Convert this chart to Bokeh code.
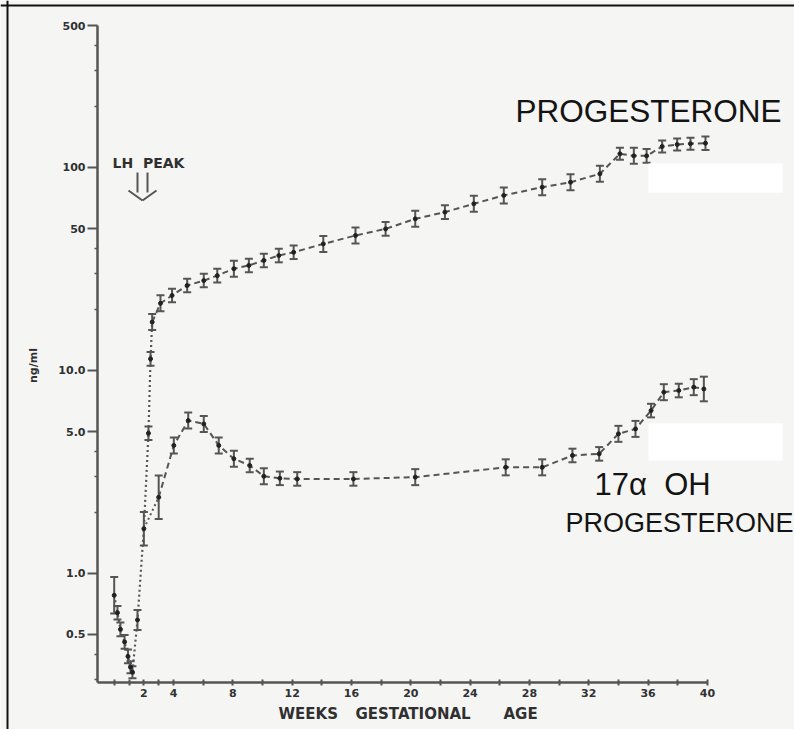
from bokeh.plotting import figure
from bokeh.models import (ColumnDataSource, Whisker, TeeHead, FixedTicker, Label,
                          Span, BoxAnnotation, Arrow, Range1d)
from bokeh.embed import file_html
from bokeh.resources import INLINE

# ---------------- data ----------------
# shared early luteal / conception points (ng/ml)
early_weeks = [0.0, 0.22, 0.42, 0.70, 0.93, 1.10, 1.23, 1.57, 2.0]
early_vals = [0.78, 0.64, 0.53, 0.46, 0.39, 0.345, 0.326, 0.59, 1.66]
early_err_pct = [23, 8, 8, 8, 8, 7, 7, 12, 21]

prog_weeks = [2.31, 2.45, 2.56, 3.12, 3.90, 4.92, 6.04, 6.95, 8.07, 9.08, 10.09,
              11.10, 12.10, 14.10, 16.27, 18.30, 20.30, 22.30, 24.25, 26.27, 28.86,
              30.77, 32.75, 34.10, 35.04, 35.90, 36.95, 37.96, 38.86, 39.87]
prog_vals = [4.9, 11.4, 17.3, 21.4, 23.4, 26.2, 27.7, 29.3, 31.7, 32.9, 34.8,
             36.8, 38.2, 42.0, 46.2, 49.8, 55.8, 60.2, 66.2, 72.8, 79.9,
             84.5, 93.0, 116.7, 114.0, 114.0, 126.8, 129.7, 130.9, 131.6]
prog_err_pct = [8, 8, 9.5, 9.5, 8, 8, 8, 8, 9.5, 8, 8,
                8, 8, 9.5, 9.5, 8, 9.5, 8, 9.5, 9.5, 9.5,
                9.5, 9.5, 7, 9.5, 8, 7, 7, 7, 8]

oh_weeks = [3.0, 4.02, 4.99, 6.04, 7.05, 8.07, 9.14, 10.09, 11.17, 12.34, 16.13,
            20.3, 26.4, 28.86, 30.9, 32.7, 34.0, 35.15, 36.2, 37.06, 38.07, 39.08, 39.76]
oh_vals = [2.37, 4.27, 5.66, 5.45, 4.27, 3.67, 3.40, 3.01, 2.94, 2.92, 2.92,
           2.98, 3.33, 3.33, 3.81, 3.88, 4.87, 5.15, 6.34, 7.81, 7.96, 8.27, 8.1]
oh_err_pct = [28, 9.5, 9.5, 9.5, 9.5, 9.5, 8, 9.5, 8, 8, 8,
              9.5, 9.5, 9.5, 8, 8, 9.5, 9.5, 8, 9.5, 8, 9.5, 15]

x_ticks = [0, 1, 2, 3, 4, 6, 8, 10, 12, 14, 16, 18, 20, 22, 24, 26, 28, 30, 32, 34, 36, 38, 40]
x_tick_labels = {2: "2", 4: "4", 8: "8", 12: "12", 16: "16", 20: "20", 24: "24",
                 28: "28", 32: "32", 36: "36", 40: "40"}
y_ticks = [0.5, 1, 5, 10, 50, 100, 500]
y_tick_labels = {0.5: "0.5", 1: "1.0", 5: "5.0", 10: "10.0", 50: "50", 100: "100", 500: "500"}
y_minor = [0.3, 0.4, 2, 3, 4, 20, 30, 40, 200, 300, 400]

# ---------------- styling ----------------
BG = "#f5f6f4"
INK = "#555555"
TXT = "#303030"
W, H = 794, 729


def sx(px):  # image x -> frame screen x
    return px


def sy(py):  # image y -> frame screen y (from bottom)
    return H - py


p = figure(width=W, height=H, output_backend="svg", toolbar_location=None,
           y_axis_type="log", x_range=Range1d(-7.667, 45.873),
           y_range=Range1d(0.1702, 664.2), min_border=0,
           background_fill_color=BG, border_fill_color=BG, outline_line_color=None)
p.xgrid.visible = False
p.ygrid.visible = False

xa = p.xaxis[0]
ya = p.yaxis[0]
xa.fixed_location = 0.290
ya.fixed_location = -1.126
xa.bounds = (-1.126, 40)
ya.bounds = (0.290, 500)
xa.ticker = FixedTicker(ticks=x_ticks, minor_ticks=[])
xa.major_label_overrides = {t: x_tick_labels.get(t, "") for t in x_ticks}
ya.ticker = FixedTicker(ticks=y_ticks, minor_ticks=y_minor)
ya.major_label_overrides = y_tick_labels

for ax in (xa, ya):
    ax.axis_line_color = INK
    ax.axis_line_width = 2.5
    ax.major_tick_line_color = INK
    ax.major_tick_line_width = 2
    ax.minor_tick_line_color = INK
    ax.minor_tick_line_width = 1.5
    ax.major_label_text_font = "DejaVu Sans"
    ax.major_label_text_font_style = "bold"
    ax.major_label_text_color = TXT
    ax.major_label_text_font_size = "11px"

ya.major_tick_out = 10
ya.major_tick_in = 0
ya.minor_tick_out = 3
ya.minor_tick_in = 0
ya.major_label_standoff = 2
xa.major_tick_out = 3
xa.major_tick_in = 3
xa.minor_tick_out = 0
xa.minor_tick_in = 0
xa.major_label_standoff = 3

# ---------------- series ----------------
def err_source(ws, vs, pcts):
    up = [v * (1 + e / 100) for v, e in zip(vs, pcts)]
    lo = [v / (1 + e / 100) for v, e in zip(vs, pcts)]
    return ColumnDataSource(dict(x=ws, y=vs, upper=up, lower=lo))


# connecting lines
p.line(early_weeks + prog_weeks[:3], early_vals + prog_vals[:3],
       line_color=INK, line_width=2.2, line_dash="2 3")
p.line(prog_weeks[2:], prog_vals[2:], line_color=INK, line_width=2, line_dash="6 4")
p.line(early_weeks[-1:] + oh_weeks[:1], early_vals[-1:] + oh_vals[:1],
       line_color=INK, line_width=2, line_dash="2 3")
p.line(oh_weeks, oh_vals, line_color=INK, line_width=2, line_dash="6 4")

for ws, vs, es in ((early_weeks, early_vals, early_err_pct),
                   (prog_weeks, prog_vals, prog_err_pct),
                   (oh_weeks, oh_vals, oh_err_pct)):
    src = err_source(ws, vs, es)
    p.add_layout(Whisker(source=src, base="x", upper="upper", lower="lower",
                         dimension="height", line_color=INK, line_width=2,
                         upper_head=TeeHead(size=8, line_color=INK, line_width=2),
                         lower_head=TeeHead(size=8, line_color=INK, line_width=2)))
    p.scatter("x", "y", source=src, size=4, color="#222222")

# ---------------- annotations ----------------
# white patches of the scan
for top, bottom in ((163, 192), (423, 460)):
    p.add_layout(BoxAnnotation(left=sx(648), right=sx(782), top=sy(top), bottom=sy(bottom),
                               left_units="screen", right_units="screen",
                               top_units="screen", bottom_units="screen",
                               fill_color="white", fill_alpha=1, line_alpha=0))

big = dict(x_units="screen", y_units="screen", text_font="Liberation Sans",
           text_color="#141414", text_baseline="middle", text_align="left")
p.add_layout(Label(x=sx(515), y=sy(110), text="PROGESTERONE", text_font_size="31.5px", **big))
p.add_layout(Label(x=sx(594), y=sy(484), text="17\u03b1\u00a0\u00a0OH", text_font_size="31px", **big))
p.add_layout(Label(x=sx(565), y=sy(522), text="PROGESTERONE", text_font_size="27px", **big))

small = dict(x_units="screen", y_units="screen", text_font="DejaVu Sans",
             text_font_style="bold", text_color=TXT, text_baseline="middle")
p.add_layout(Label(x=sx(112), y=sy(162), text="LH\u00a0\u00a0PEAK", text_font_size="14px",
                   text_align="left", **small))
for word, left in (("WEEKS", 278), ("GESTATIONAL", 355), ("AGE", 503)):
    p.add_layout(Label(x=sx(left), y=sy(713), text=word, text_font_size="15px",
                       text_align="left", **small))
p.add_layout(Label(x=sx(33), y=sy(365), text="ng/ml", text_font_size="11px",
                   text_align="center", angle=1.5708, **small))

# LH peak double arrow
for a in ((137, 172, 137, 192), (147, 172, 147, 192), (128, 190, 142, 200), (156, 190, 142, 200)):
    p.add_layout(Arrow(x_start=sx(a[0]), y_start=sy(a[1]), x_end=sx(a[2]), y_end=sy(a[3]),
                       start_units="screen", end_units="screen", start=None, end=None,
                       line_color=INK, line_width=2))

# scan border (left and top)
p.add_layout(Span(location=7, location_units="screen", dimension="height",
                  line_color="#111111", line_width=2))
p.add_layout(Span(location=H - 5, location_units="screen", dimension="width",
                  line_color="#111111", line_width=2))

open("out.html", "w").write(file_html(p, INLINE))
